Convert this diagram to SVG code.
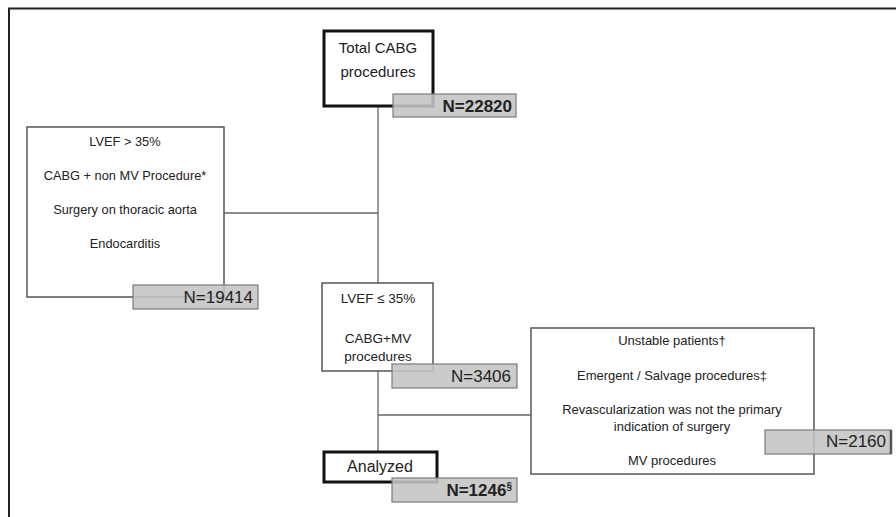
<svg xmlns="http://www.w3.org/2000/svg" width="896" height="517" viewBox="0 0 896 517">
<style>
text{font-family:"Liberation Sans",Arial,sans-serif;fill:#222;}
.box{fill:#fff;stroke:#555;stroke-width:1.5;}
.thick{fill:#fff;stroke:#111;stroke-width:3;}
.n{fill:#c4c4c4;fill-opacity:0.88;stroke:#7a7a7a;stroke-width:1.2;}
.c{text-anchor:middle;}
.r{text-anchor:end;font-size:17px;}
.s{font-size:12.8px;}
.s2{font-size:13px;}
.line{stroke:#666;stroke-width:1.3;fill:none;}
</style>
<rect width="896" height="517" fill="#fff"/>
<path d="M9 517 V8.5 H896" fill="none" stroke="#222" stroke-width="2"/>
<g id="connectors">
<path class="line" d="M378 106 V283"/>
<path class="line" d="M224 213 H378"/>
<path class="line" d="M378 371 V452"/>
<path class="line" d="M378 415 H531"/>
</g>
<g id="total">
<rect class="thick" x="324" y="31" width="109" height="75"/>
<text class="c" x="378" y="53" font-size="15">Total CABG</text>
<text class="c" x="378" y="77" font-size="15">procedures</text>
<rect class="n" x="393" y="94" width="123" height="23"/>
<text class="r" x="512" y="112" font-weight="bold" font-size="16.5">N=22820</text>
</g>
<g id="excl1">
<rect class="box" x="27" y="127" width="197" height="170"/>
<text class="c s" x="125" y="146">LVEF &gt; 35%</text>
<text class="c s" x="125" y="180">CABG +  non MV Procedure*</text>
<text class="c s" x="125" y="214">Surgery on thoracic aorta</text>
<text class="c s" x="125" y="248">Endocarditis</text>
<rect class="n" x="133" y="285" width="125" height="24"/>
<text class="r" x="253" y="303">N=19414</text>
</g>
<g id="lvef">
<rect class="box" x="322" y="283" width="111" height="88"/>
<text class="c" x="378" y="303" font-size="13.5">LVEF ≤ 35%</text>
<text class="c" x="378" y="343" font-size="13.5">CABG+MV</text>
<text class="c" x="378" y="361" font-size="13.5">procedures</text>
<rect class="n" x="392" y="364" width="125" height="24"/>
<text class="r" x="511" y="382">N=3406</text>
</g>
<g id="excl2">
<rect class="box" x="531" y="328" width="283" height="146"/>
<text class="c s2" x="672" y="345">Unstable patients†</text>
<text class="c s2" x="672" y="380">Emergent / Salvage procedures‡</text>
<text class="c s2" x="672" y="414">Revascularization was not the primary</text>
<text class="c s2" x="672" y="431">indication of surgery</text>
<text class="c s2" x="672" y="465">MV procedures</text>
<rect class="n" x="765" y="430" width="126" height="24"/>
<path d="M891 430 V454" stroke="#555" stroke-width="2.5"/>
<text class="r" x="886" y="447">N=2160</text>
</g>
<g id="analyzed">
<rect class="thick" x="324" y="452" width="113" height="30"/>
<text class="c" x="380" y="472" font-size="16">Analyzed</text>
<rect class="n" x="392" y="478" width="125" height="24"/>
<text class="r" x="512" y="496" font-weight="bold" font-size="16.5">N=1246<tspan font-size="10" dy="-6">§</tspan></text>
</g>
</svg>
